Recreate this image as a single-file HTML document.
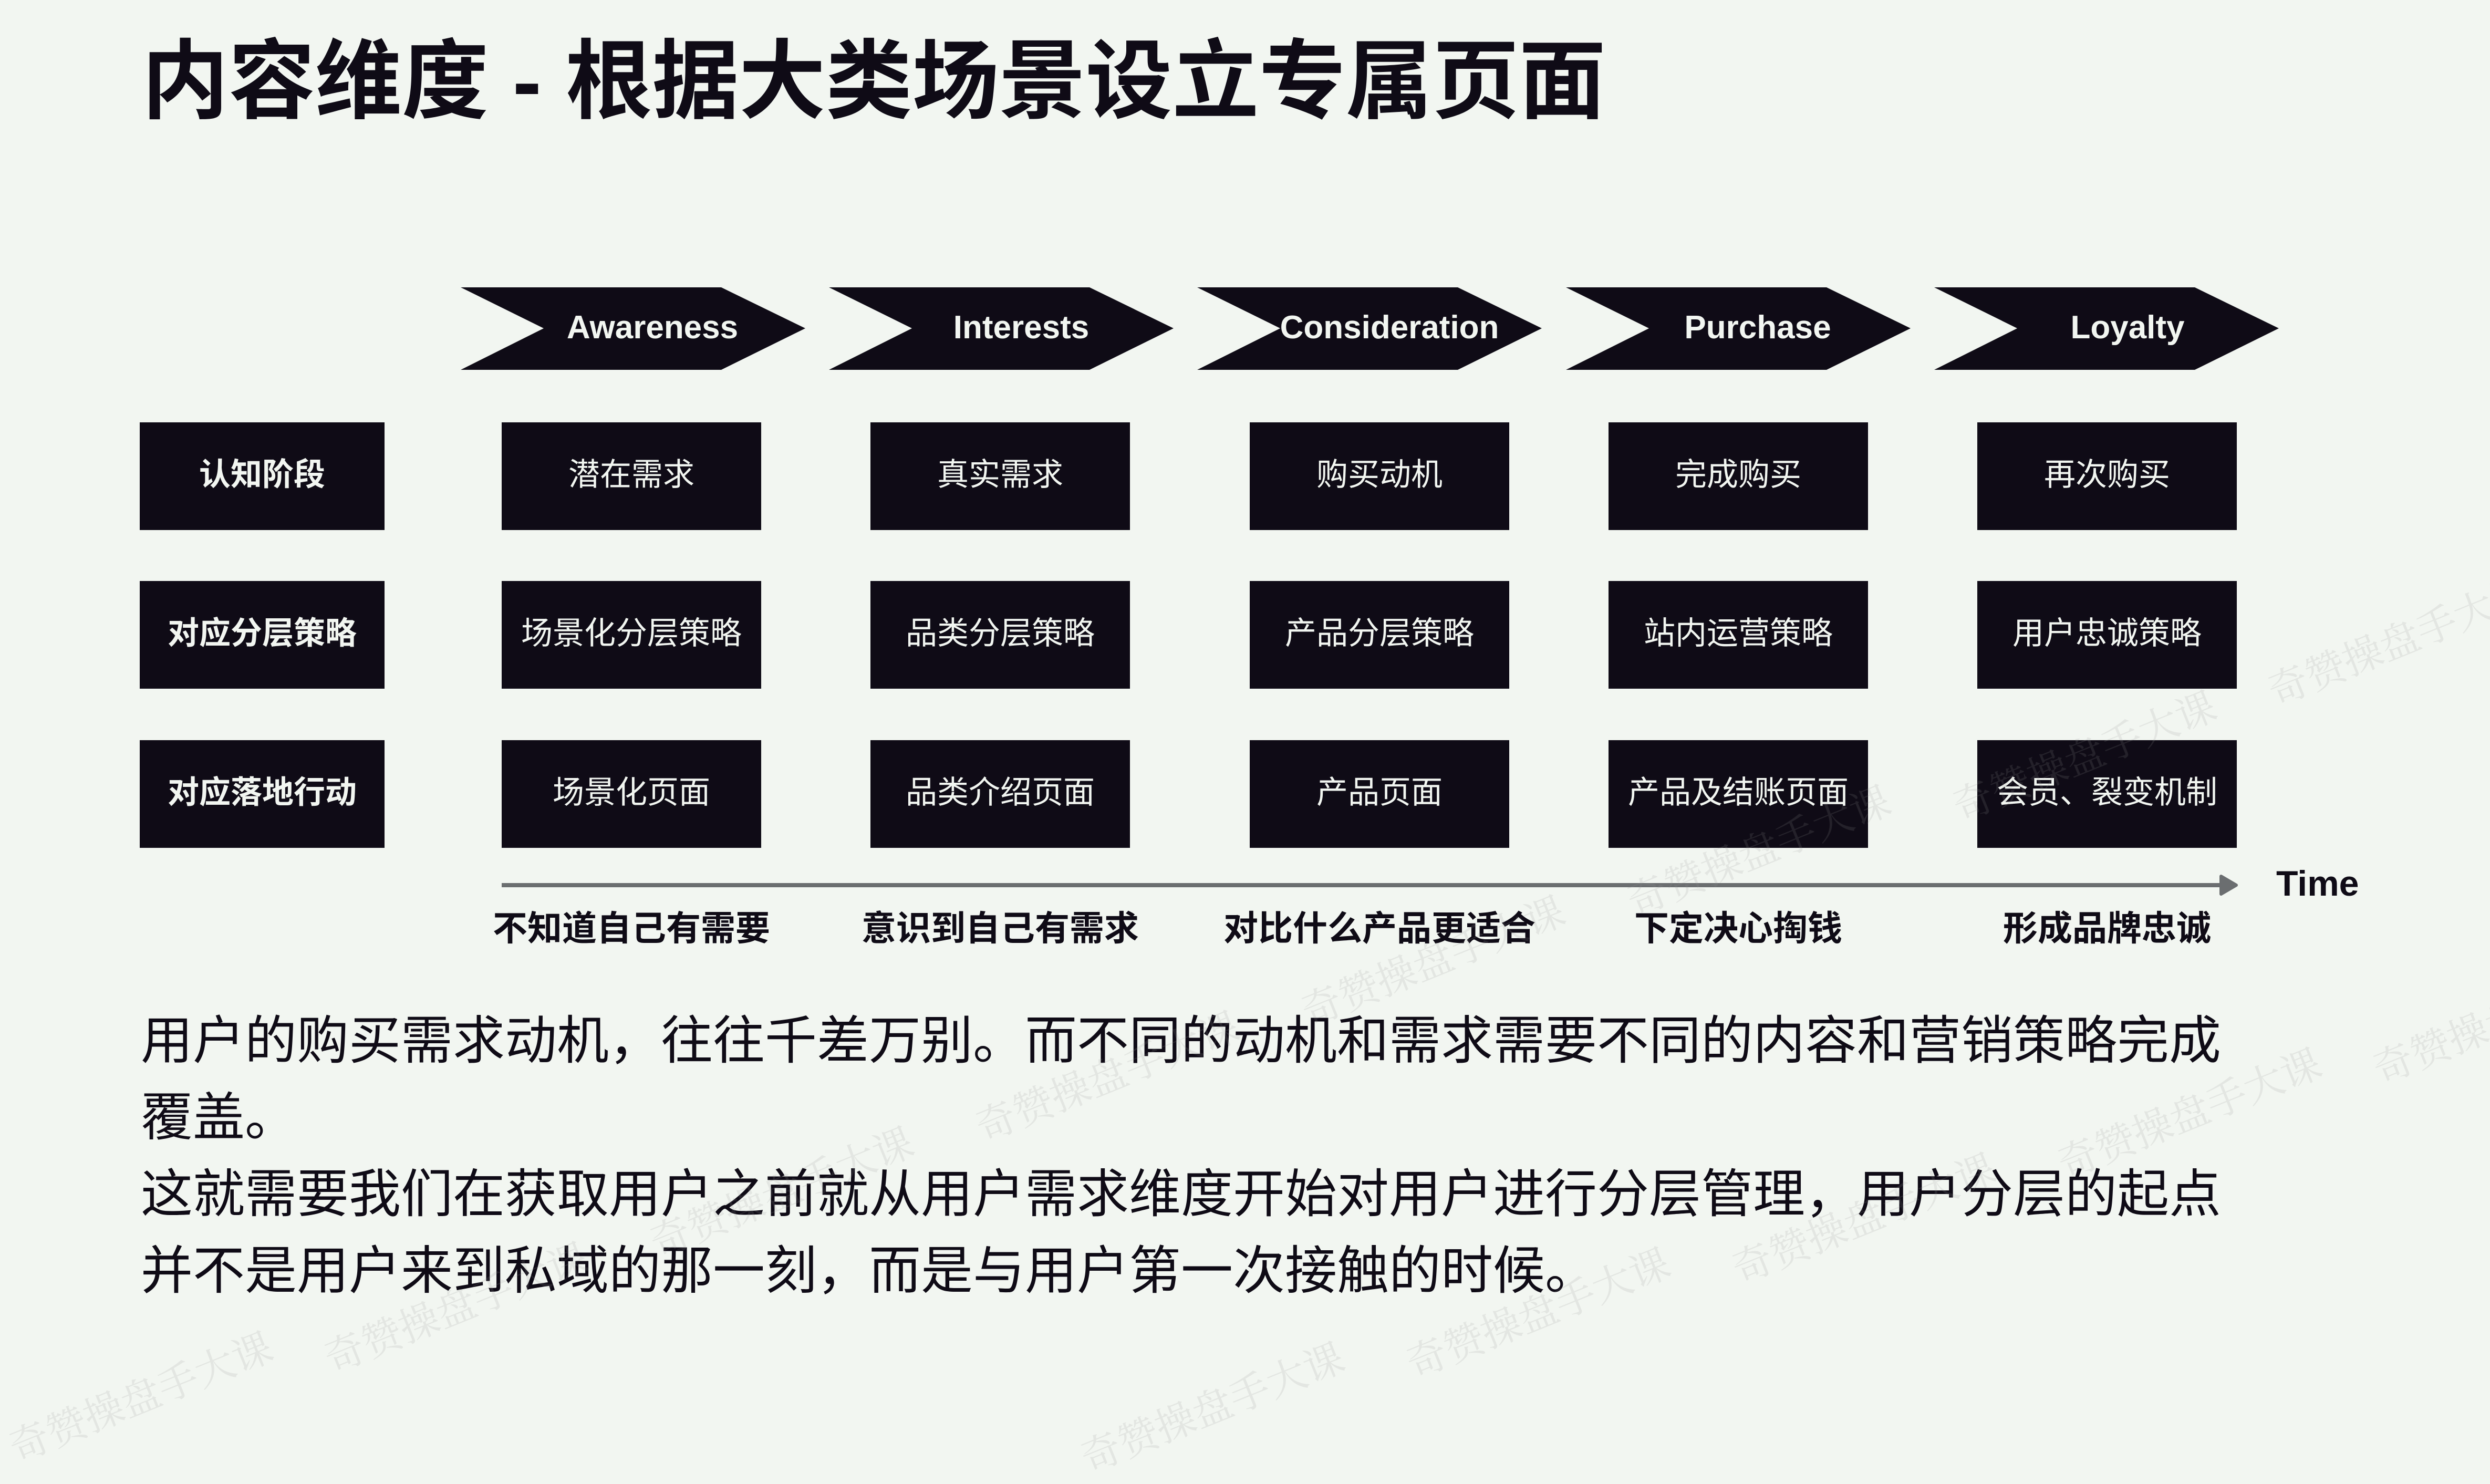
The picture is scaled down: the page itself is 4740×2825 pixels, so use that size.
<!DOCTYPE html>
<html><head><meta charset="utf-8"><style>
*{margin:0;padding:0;box-sizing:border-box}
body{width:4740px;height:2666px;background:#f2f6f1;position:relative;overflow:hidden;font-family:"Liberation Sans","Noto Sans CJK SC",sans-serif;color:#0f0b16}
.a{position:absolute}
.box{position:absolute;background:#0f0b16;color:#f2f6f1;display:flex;align-items:center;justify-content:center;font-size:60px;white-space:nowrap;width:494px;height:205px;padding-bottom:16px}
.lb{left:266px;width:466px;font-weight:bold}
.ct{position:absolute;color:#f2f6f1;font-weight:bold;font-size:62px;width:600px;text-align:center;top:586px;line-height:76px;font-family:"Liberation Sans",sans-serif}
.bl{position:absolute;font-weight:bold;font-size:66px;width:700px;text-align:center;top:1725px;line-height:84px;white-space:nowrap}
.wm{position:absolute;color:rgba(150,150,150,0.16);font-family:"Liberation Serif","Noto Serif CJK SC",serif;font-size:76px;transform:rotate(-22deg);white-space:nowrap}
</style></head><body>
<div class="a" style="left:270px;top:60px;font-size:165px;font-weight:bold;line-height:190px;white-space:nowrap">内容维度 - 根据大类场景设立专属页面</div>

<svg class="a" style="left:0;top:0" width="4740" height="1800">
<g fill="#0f0b16">
<polygon points="877,547 1373,547 1533,625 1373,704 877,704 1035,625"/>
<polygon points="1578,547 2074,547 2234,625 2074,704 1578,704 1736,625"/>
<polygon points="2279,547 2775,547 2935,625 2775,704 2279,704 2437,625"/>
<polygon points="2981,547 3477,547 3637,625 3477,704 2981,704 3139,625"/>
<polygon points="3682,547 4178,547 4338,625 4178,704 3682,704 3840,625"/>
</g>
<line x1="955" y1="1685" x2="4235" y2="1685" stroke="#6b6e70" stroke-width="8"/>
<polygon points="4228,1668 4257,1685 4228,1702" fill="#6b6e70" stroke="#6b6e70" stroke-width="6" stroke-linejoin="round"/>
</svg>

<div class="ct" style="left:942px">Awareness</div>
<div class="ct" style="left:1644px">Interests</div>
<div class="ct" style="left:2345px">Consideration</div>
<div class="ct" style="left:3046px">Purchase</div>
<div class="ct" style="left:3750px">Loyalty</div>

<div class="box lb" style="top:804px">认知阶段</div>
<div class="box lb" style="top:1106px">对应分层策略</div>
<div class="box lb" style="top:1409px">对应落地行动</div>

<div class="box" style="left:955px;top:804px">潜在需求</div>
<div class="box" style="left:1657px;top:804px">真实需求</div>
<div class="box" style="left:2379px;top:804px">购买动机</div>
<div class="box" style="left:3062px;top:804px">完成购买</div>
<div class="box" style="left:3764px;top:804px">再次购买</div>

<div class="box" style="left:955px;top:1106px">场景化分层策略</div>
<div class="box" style="left:1657px;top:1106px">品类分层策略</div>
<div class="box" style="left:2379px;top:1106px">产品分层策略</div>
<div class="box" style="left:3062px;top:1106px">站内运营策略</div>
<div class="box" style="left:3764px;top:1106px">用户忠诚策略</div>

<div class="box" style="left:955px;top:1409px">场景化页面</div>
<div class="box" style="left:1657px;top:1409px">品类介绍页面</div>
<div class="box" style="left:2379px;top:1409px">产品页面</div>
<div class="box" style="left:3062px;top:1409px">产品及结账页面</div>
<div class="box" style="left:3764px;top:1409px">会员、裂变机制</div>

<div class="a" style="left:4333px;top:1642px;font-size:68px;font-weight:bold;line-height:80px">Time</div>

<div class="bl" style="left:852px">不知道自己有需要</div>
<div class="bl" style="left:1554px">意识到自己有需求</div>
<div class="bl" style="left:2276px">对比什么产品更适合</div>
<div class="bl" style="left:2959px">下定决心掏钱</div>
<div class="bl" style="left:3661px">形成品牌忠诚</div>

<div class="a" style="left:268px;top:1908px;font-size:99px;line-height:146px;white-space:nowrap;color:#0f0b16">用户的购买需求动机，往往千差万别。而不同的动机和需求需要不同的内容和营销策略完成<br>覆盖。<br>这就需要我们在获取用户之前就从用户需求维度开始对用户进行分层管理，用户分层的起点<br>并不是用户来到私域的那一刻，而是与用户第一次接触的时候。</div>

<div class="wm" style="left:4300px;top:1160px">奇赞操盘手大课</div>
<div class="wm" style="left:3700px;top:1380px">奇赞操盘手大课</div>
<div class="wm" style="left:3080px;top:1560px">奇赞操盘手大课</div>
<div class="wm" style="left:2460px;top:1770px">奇赞操盘手大课</div>
<div class="wm" style="left:1840px;top:1990px">奇赞操盘手大课</div>
<div class="wm" style="left:1220px;top:2210px">奇赞操盘手大课</div>
<div class="wm" style="left:600px;top:2430px">奇赞操盘手大课</div>
<div class="wm" style="left:0px;top:2600px">奇赞操盘手大课</div>
<div class="wm" style="left:4500px;top:1880px">奇赞操盘手大课</div>
<div class="wm" style="left:3900px;top:2060px">奇赞操盘手大课</div>
<div class="wm" style="left:3280px;top:2260px">奇赞操盘手大课</div>
<div class="wm" style="left:2660px;top:2440px">奇赞操盘手大课</div>
<div class="wm" style="left:2040px;top:2620px">奇赞操盘手大课</div>
</body></html>
